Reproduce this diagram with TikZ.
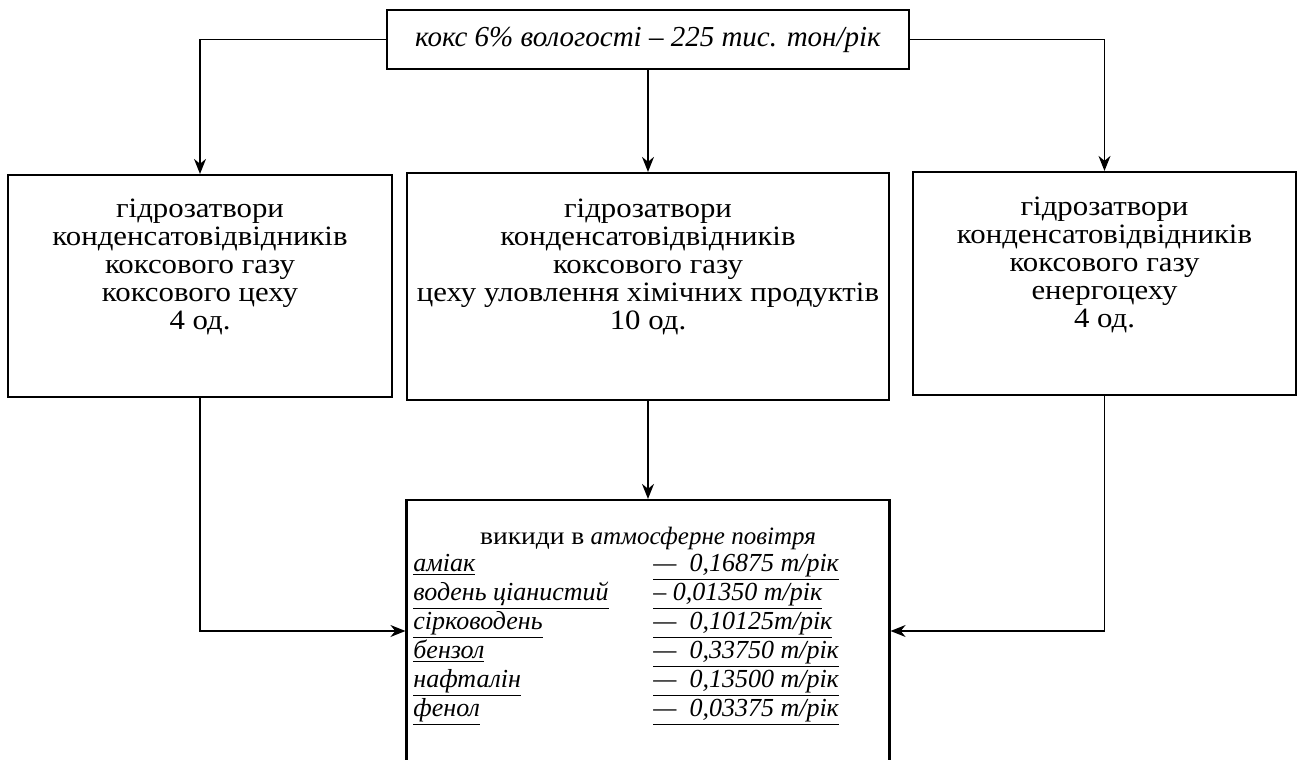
\documentclass[tikz,border=0pt]{standalone}
\usepackage{fontspec}
\setmainfont{Liberation Serif}
\newfontfamily\wideserif[FakeStretch=1.1]{Liberation Serif}
\usetikzlibrary{arrows.meta}

\begin{document}
\begin{tikzpicture}
[x=0.5pt,y=-0.5pt,
  lineDecorate/.style={-{Stealth[length=7.5pt,width=6pt]},line width=0.8pt},%
  boxDecorate/.style={shape=rectangle,draw,line width=1.1pt,inner sep=0pt},%
  textDecorate/.style={inner sep=0pt,align=center,font=\wideserif\fontsize{14}{14}\selectfont},%
  rowDecorate/.style={inner sep=0pt,anchor=base west,font=\itshape\fontsize{13}{14}\selectfont}]
\useasboundingbox (0,0) rectangle (1303,760);
%% source box
\node (coke) at (648,39.5) [boxDecorate,minimum width=261pt,minimum height=29.5pt]
  {\itshape\fontsize{14.5}{16}\selectfont кокс 6\% вологості – 225 тис. тон/рік};
%% water seal boxes
\foreach \boxname/\x/\y/\w/\h in {
  cokeshop/200/286/384/222, chemshop/648/286.5/482/227,
  powershop/1104.5/283.5/383/223}
{
  \node (\boxname) at (\x,\y) [boxDecorate,minimum width=\w*0.5pt,minimum height=\h*0.5pt] {};
}
\node (cokeshoptext) at (200,267) [textDecorate]
  {гідрозатвори\\конденсатовідвідників\\коксового газу\\коксового цеху\\4 од.};
\node (chemshoptext) at (648,267) [textDecorate]
  {гідрозатвори\\конденсатовідвідників\\коксового газу\\цеху уловлення хімічних продуктів\\10 од.};
\node (powershoptext) at (1104.5,264.5) [textDecorate]
  {гідрозатвори\\конденсатовідвідників\\коксового газу\\енергоцеху\\4 од.};
%% emissions box
\node (emission) at (648,631) [boxDecorate,minimum width=241.5pt,minimum height=131pt] {};
\node (emissiontitle) at (648,544) [anchor=base,inner sep=0pt,font=\fontsize{12.5}{14}\selectfont]
  {{\wideserif викиди в} \textit{атмосферне повітря}};
\foreach \rowname/\y/\subst/\amount in {
  ammonia/571/аміак/{—\ \ 0,16875 т/рік},
  cyanide/600/водень ціанистий/{– 0,01350 т/рік},
  sulphide/629/сірководень/{—\ \ 0,10125т/рік},
  benzene/658/бензол/{—\ \ 0,33750 т/рік},
  naphth/687/нафталін/{—\ \ 0,13500 т/рік},
  phenol/716/фенол/{—\ \ 0,03375 т/рік}}
{
  \node (\rowname) at (413,\y) [rowDecorate] {\underline{\subst}};
  \node (\rowname amount) at (653,\y) [rowDecorate] {\underline{\amount}};
}
%% connectors
\draw[lineDecorate] (coke.west) -| (cokeshop.north);
\draw[lineDecorate] (coke.south) -- (chemshop.north);
\draw[lineDecorate] (coke.east) -| (powershop.north);
\draw[lineDecorate] (cokeshop.south) |- (emission.west);
\draw[lineDecorate] (chemshop.south) -- (emission.north);
\draw[lineDecorate] (powershop.south) |- (emission.east);
\end{tikzpicture}
\end{document}
